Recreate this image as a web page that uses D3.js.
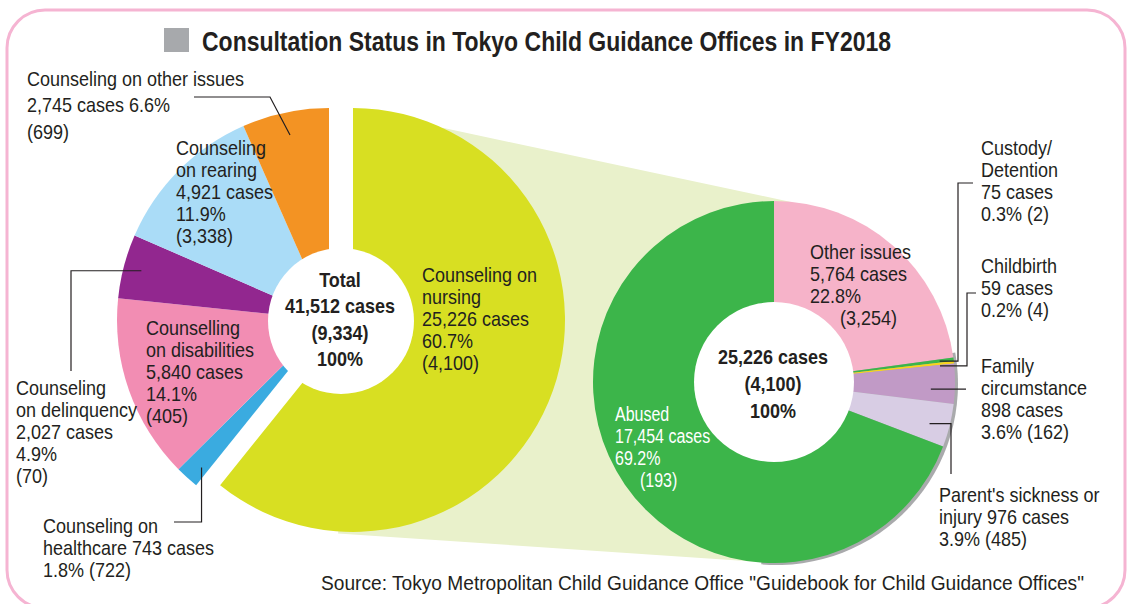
<!DOCTYPE html>
<html lang="en">
<head>
<meta charset="utf-8">
<title>Consultation Status in Tokyo Child Guidance Offices in FY2018</title>
<script src="https://cdn.jsdelivr.net/npm/d3@7"></script>
<style>
  html, body { margin: 0; background: #fff; }
  svg { display: block; font-family: "Liberation Sans", Arial, sans-serif; }
</style>
</head>
<body>
<svg id="chart" width="1127" height="604"></svg>
<script>
// all consultations, clockwise from 12 o'clock
const totalCats = ["Counseling on nursing", "Counseling on healthcare", "Counselling on disabilities",
                   "Counseling on delinquency", "Counseling on rearing", "Counseling on other issues"];
const totalCases = [25226, 743, 5840, 2027, 4921, 2745];
const totalPct = [60.7, 1.8, 14.1, 4.9, 11.9, 6.6];
const totalParen = [4100, 722, 405, 70, 3338, 699];
const totalColors = ["#d8df22", "#3aabe0", "#f28db3", "#92278f", "#aadcf7", "#f39323"];
const totalAll = 41512, totalAllParen = 9334;

// breakdown of nursing consultations
const nursingCats = ["Other issues", "Custody/Detention", "Childbirth", "Family circumstance",
                     "Parent's sickness or injury", "Abused"];
const nursingCases = [5764, 75, 59, 898, 976, 17454];
const nursingPct = [22.8, 0.3, 0.2, 3.6, 3.9, 69.2];
const nursingParen = [3254, 2, 4, 162, 485, 193];
const nursingColors = ["#f6b3c9", "#3cb54a", "#f8d41c", "#c19ac6", "#d8cde4", "#3cb54a"];

const ink = "#231f20";
const K = 0.9;            // squeeze to look like a condensed face
const fmt = d3.format(",");
const rad = Math.PI / 180;
const svg = d3.select("#chart");

const polar = (c, r, deg) => [c[0] + r * Math.sin(deg * rad), c[1] - r * Math.cos(deg * rad)];

// frame
svg.append("rect")
  .attr("x", 7).attr("y", 10).attr("width", 1118).attr("height", 598).attr("rx", 38)
  .attr("fill", "none").attr("stroke", "#f5b4d2").attr("stroke-width", 3);

// title
svg.append("rect").attr("x", 164).attr("y", 28).attr("width", 25).attr("height", 24).attr("fill", "#a7a9ac");
svg.append("text")
  .attr("x", 202).attr("y", 51)
  .attr("font-size", 27).attr("font-weight", "bold").attr("fill", ink)
  .attr("textLength", 689).attr("lengthAdjust", "spacingAndGlyphs")
  .text("Consultation Status in Tokyo Child Guidance Offices in FY2018");

// geometry
const leftC = [329, 320], shift = 24, R1 = 212;
const nursC = [leftC[0] + shift, leftC[1]];
const rightC = [774, 382], R2 = 181, R2in = 80;

const pie = d3.pie().sort(null).value(d => d);
const totalArcs = pie(totalCases);
const nursingArcs = pie(nursingCases);
const deg = a => a / rad;

// pale connector from the nursing slice to the breakdown
const band = [polar(nursC, R1, 25), polar(rightC, R2, 5), polar(rightC, R2, 180),
              polar(nursC, R1 + 2, 184), nursC];
svg.append("path").attr("d", d3.line()(band) + "Z").attr("fill", "#e9f1cb");

// shadow under the right pie
svg.append("path")
  .attr("transform", `translate(${rightC[0] + 3},${rightC[1] + 2})`)
  .attr("d", d3.arc().innerRadius(0).outerRadius(R2)({startAngle: 80 * rad, endAngle: 185 * rad}))
  .attr("fill", "#a9aaac");

// right pie
const arc2 = d3.arc().innerRadius(0).outerRadius(R2);
svg.append("g")
  .attr("transform", `translate(${rightC})`)
  .selectAll("path")
  .data(nursingArcs)
  .join("path")
  .attr("d", arc2)
  .attr("fill", (d, i) => nursingColors[i]);
svg.append("circle").attr("cx", rightC[0]).attr("cy", rightC[1]).attr("r", R2in).attr("fill", "#fff");

// left pie, nursing slice pulled out to the right
const arc1 = d3.arc().innerRadius(0).outerRadius(R1);
svg.append("g")
  .selectAll("path")
  .data(totalArcs)
  .join("path")
  .attr("transform", (d, i) => `translate(${i === 0 ? nursC : leftC})`)
  .attr("d", arc1)
  .attr("fill", (d, i) => totalColors[i]);
svg.append("circle").attr("cx", leftC[0] + shift / 2).attr("cy", leftC[1] + 1).attr("r", 73).attr("fill", "#fff");

// leader lines
function leader(pts) {
  svg.append("path").attr("d", d3.line()(pts))
    .attr("fill", "none").attr("stroke", ink).attr("stroke-width", 1.2);
}
const mid = d => deg((d.startAngle + d.endAngle) / 2);

let p = polar(leftC, 189, mid(totalArcs[5]));
leader([[194, 97], [270, 97], p]);
p = polar(leftC, 194, mid(totalArcs[3]));
leader([p, [71, p[1]], [71, 371]]);
p = polar(leftC, 195, deg(totalArcs[1].startAngle) + 2);
leader([p, [p[0], 522], [174, 522]]);

p = polar(rightC, 167, mid(nursingArcs[1]));
leader([p, [958, p[1]], [958, 183], [973, 183]]);
p = polar(rightC, 167, mid(nursingArcs[2]));
leader([[p[0], p[1] + 2], [967, p[1] + 2], [967, 293], [976, 293]]);
p = polar(rightC, 157, mid(nursingArcs[3]) + 2);
leader([p, [966, p[1]]]);
p = polar(rightC, 161, mid(nursingArcs[4]) + 1);
leader([p, [951, p[1]], [951, 474]]);

// labels
function label(x, y, lines, o = {}) {
  const lh = o.lh || 22;
  const k = o.k || K;
  const t = svg.append("text")
    .attr("transform", `translate(${x},${y}) scale(${k},1)`)
    .attr("font-size", o.size || 20)
    .attr("font-weight", o.bold ? "bold" : null)
    .attr("text-anchor", o.anchor || "start")
    .attr("fill", o.fill || ink);
  lines.forEach((s, i) => t.append("tspan")
    .attr("x", ((o.dx && o.dx[i]) || 0) / k)
    .attr("y", i * lh)
    .text(s));
}
const cases = (a, i) => `${fmt(a[i])} cases`;
const pct = v => `${v}%`;
const par = v => `(${fmt(v)})`;

label(27, 86, [totalCats[5], `${cases(totalCases, 5)} ${pct(totalPct[5])}`, par(totalParen[5])], {lh: 26.5});
label(176, 155, ["Counseling", "on rearing", cases(totalCases, 4), pct(totalPct[4]), par(totalParen[4])]);
label(146, 335, ["Counselling", "on disabilities", cases(totalCases, 2), pct(totalPct[2]), par(totalParen[2])]);
label(16, 395, ["Counseling", "on delinquency", cases(totalCases, 3), pct(totalPct[3]), par(totalParen[3])]);
label(43, 533, ["Counseling on", `healthcare ${cases(totalCases, 1)}`, `${pct(totalPct[1])} ${par(totalParen[1])}`]);
label(422, 282, ["Counseling on", "nursing", cases(totalCases, 0), pct(totalPct[0]), par(totalParen[0])]);
label(340, 287, ["Total", `${fmt(totalAll)} cases`, par(totalAllParen), "100%"],
  {bold: true, anchor: "middle", lh: 26.5});

label(810, 259, [nursingCats[0], cases(nursingCases, 0), pct(nursingPct[0]), par(nursingParen[0])],
  {dx: [0, 0, 0, 30]});
label(981, 155, ["Custody/", "Detention", cases(nursingCases, 1), `${pct(nursingPct[1])} ${par(nursingParen[1])}`]);
label(981, 273, [nursingCats[2], cases(nursingCases, 2), `${pct(nursingPct[2])} ${par(nursingParen[2])}`]);
label(981, 373, ["Family", "circumstance", cases(nursingCases, 3), `${pct(nursingPct[3])} ${par(nursingParen[3])}`]);
label(939, 502, ["Parent's sickness or", `injury ${cases(nursingCases, 4)}`, `${pct(nursingPct[4])} ${par(nursingParen[4])}`]);
label(615, 421, [nursingCats[5], cases(nursingCases, 5), pct(nursingPct[5]), par(nursingParen[5])],
  {fill: "#fff", dx: [0, 0, 0, 25], k: 0.8});
label(773, 364, [`${fmt(d3.sum(nursingCases))} cases`, par(totalParen[0]), "100%"],
  {bold: true, anchor: "middle", lh: 27});

// source
svg.append("text")
  .attr("x", 321).attr("y", 590)
  .attr("font-size", 20).attr("fill", ink)
  .attr("textLength", 763).attr("lengthAdjust", "spacingAndGlyphs")
  .text('Source: Tokyo Metropolitan Child Guidance Office "Guidebook for Child Guidance Offices"');
</script>
</body>
</html>
